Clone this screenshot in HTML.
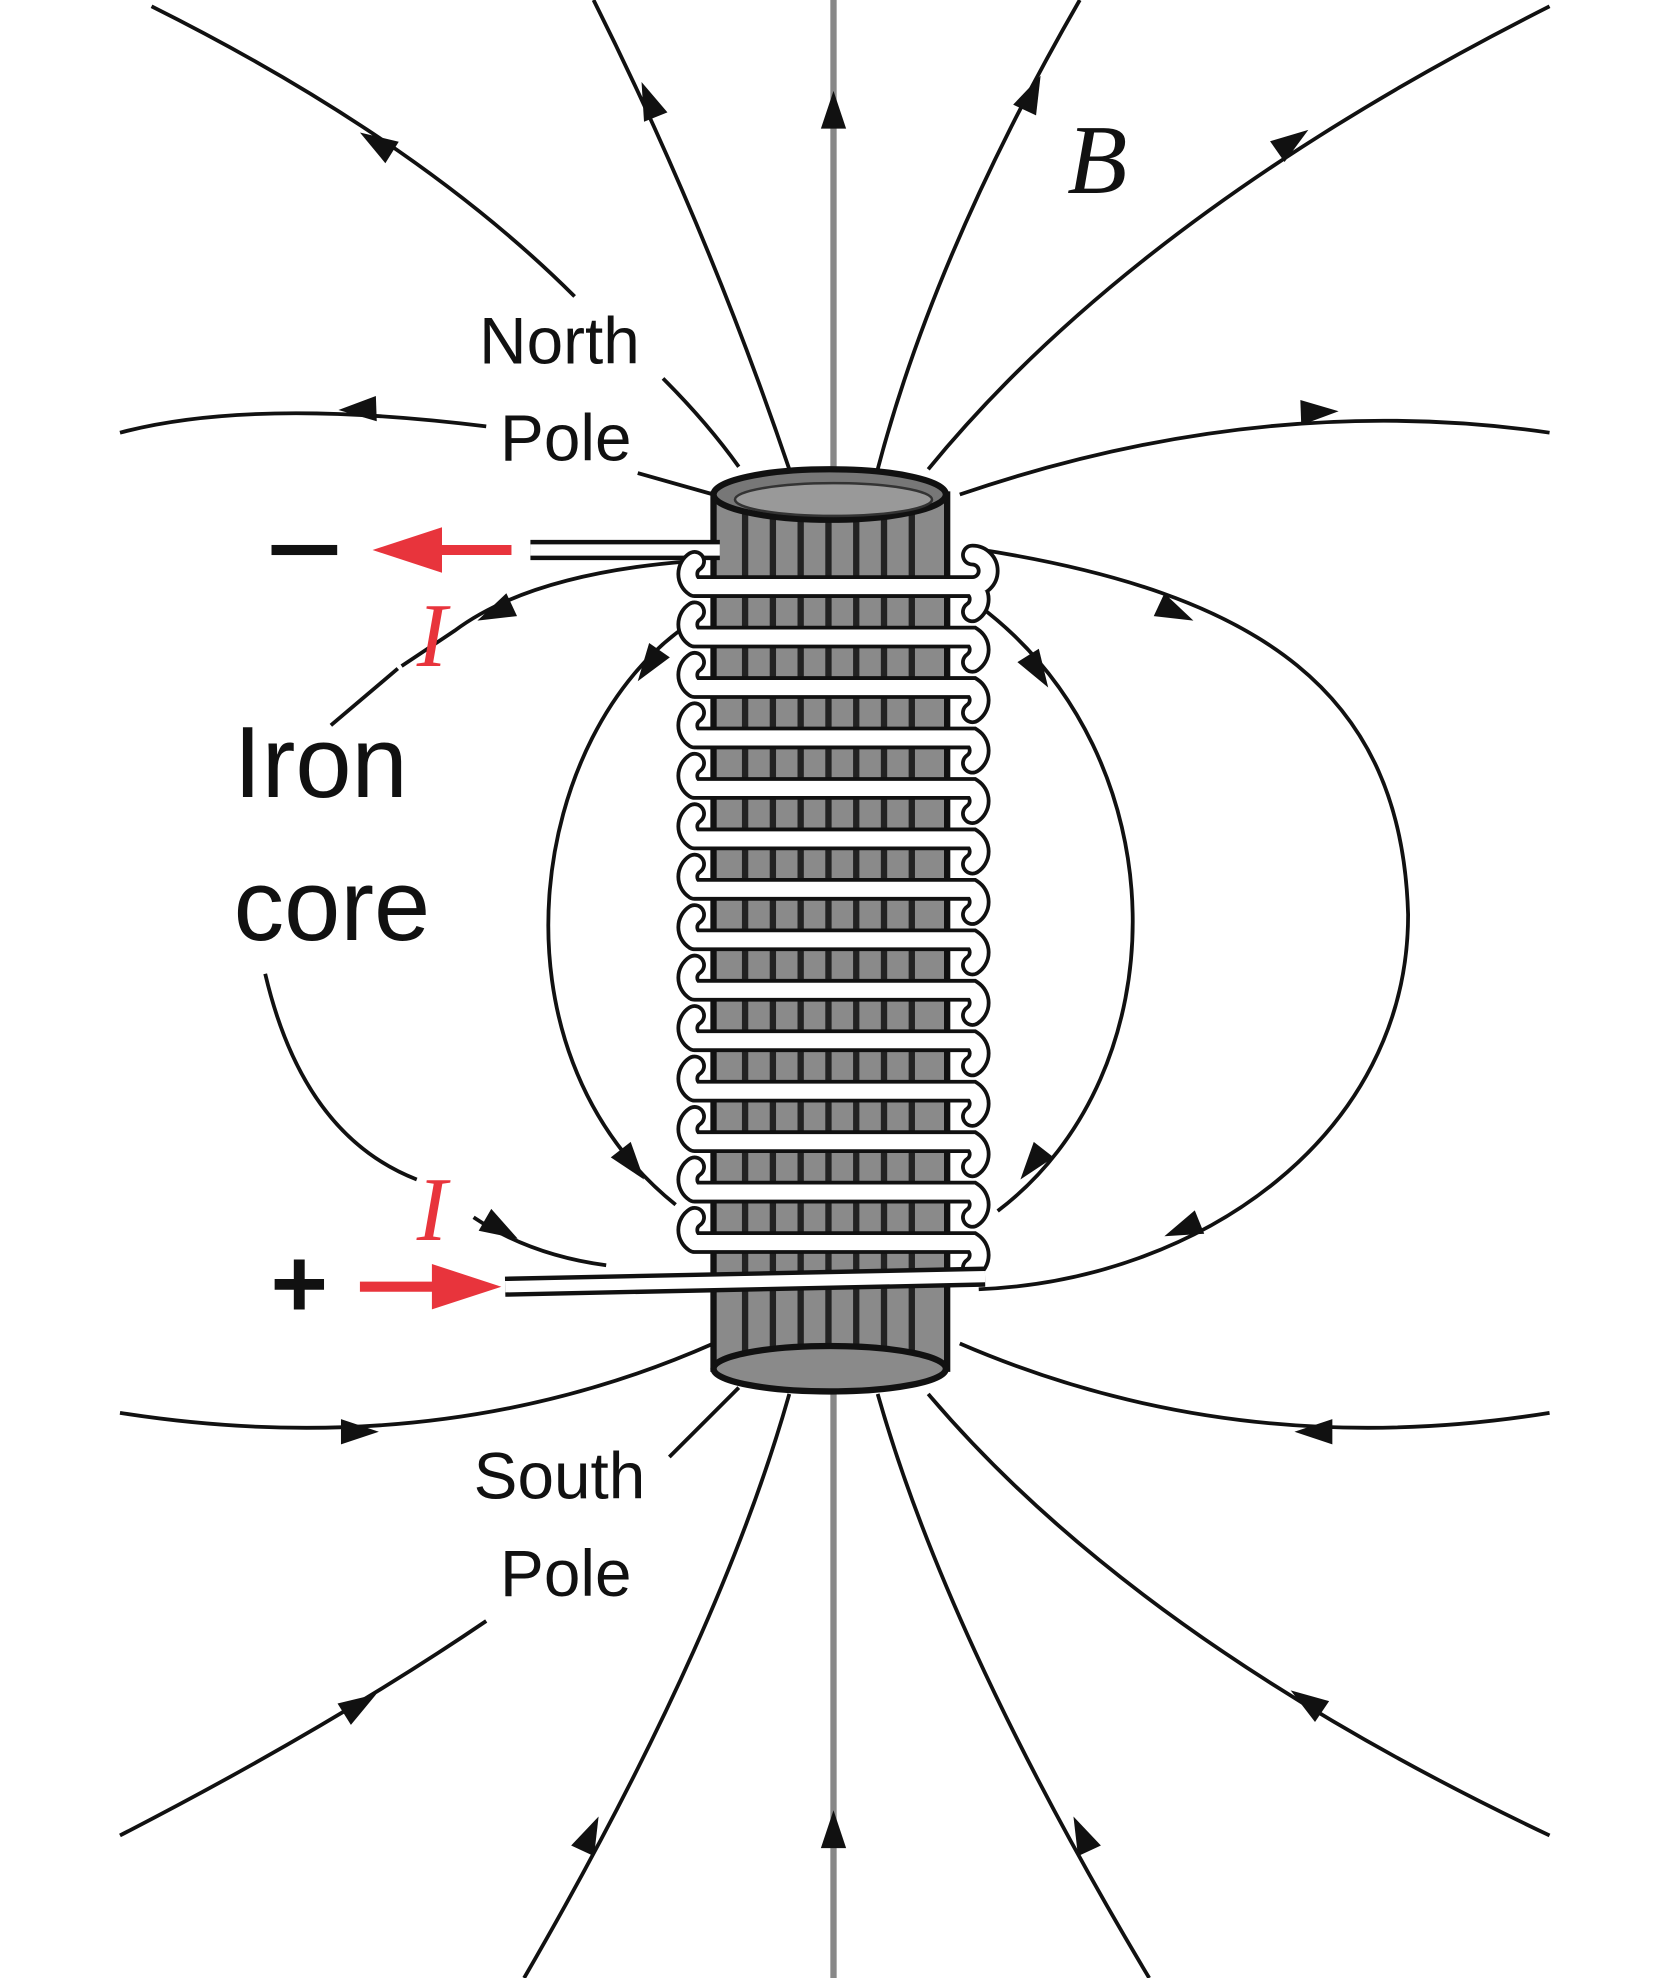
<!DOCTYPE html>
<html><head><meta charset="utf-8"><style>
html,body{margin:0;padding:0;background:#fff;}
svg{display:block;}
</style></head><body>
<svg width="1667" height="1978" viewBox="0 0 1320 1568" preserveAspectRatio="none" xmlns="http://www.w3.org/2000/svg" style="font-family:'Liberation Sans',sans-serif">
<defs>
<path id="coil" d="M770,440 A12,12 0 0 1 770,465 M550,445 A12,12 0 0 0 550,465
M550,465 L770,465 A12,12 0 0 1 770,485 M550,485 A12,12 0 0 0 550,505
M550,505 L770,505 A12,12 0 0 1 770,525 M550,525 A12,12 0 0 0 550,545
M550,545 L770,545 A12,12 0 0 1 770,565 M550,565 A12,12 0 0 0 550,585
M550,585 L770,585 A12,12 0 0 1 770,605 M550,605 A12,12 0 0 0 550,625
M550,625 L770,625 A12,12 0 0 1 770,645 M550,645 A12,12 0 0 0 550,665
M550,665 L770,665 A12,12 0 0 1 770,685 M550,685 A12,12 0 0 0 550,705
M550,705 L770,705 A12,12 0 0 1 770,725 M550,725 A12,12 0 0 0 550,745
M550,745 L770,745 A12,12 0 0 1 770,765 M550,765 A12,12 0 0 0 550,785
M550,785 L770,785 A12,12 0 0 1 770,805 M550,805 A12,12 0 0 0 550,825
M550,825 L770,825 A12,12 0 0 1 770,845 M550,845 A12,12 0 0 0 550,865
M550,865 L770,865 A12,12 0 0 1 770,885 M550,885 A12,12 0 0 0 550,905
M550,905 L770,905 A12,12 0 0 1 770,925 M550,925 A12,12 0 0 0 550,945
M550,945 L770,945 A12,12 0 0 1 770,965 M550,965 A12,12 0 0 0 550,985
M550,985 L770,985 A12,12 0 0 1 770,1005"/>
</defs>
<rect width="1320" height="1568" fill="#fff"/>
<g fill="none" stroke="#111" stroke-width="3">
<path d="M120,5 Q330,110 455,235"/><path d="M525,300 Q560,335 585,370"/>
<path d="M470,0 Q560,180 625,372"/>
<path d="M855,0 Q740,200 695,372"/>
<path d="M1227,5 Q900,170 735,372"/>
<path d="M95,343 Q200,315 385,338"/><path d="M505,375 L565,392"/>
<path d="M760,392 Q1000,310 1227,343"/>
<path d="M545,445 Q420,455 360,500 L318,528"/>
<path d="M315,530 L262,575"/>
<path d="M210,772 Q240,900 330,935"/><path d="M375,965 Q420,995 480,1003"/>
<path d="M545,495 C420,580 380,830 535,955"/>
<path d="M775,480 C935,600 935,850 790,960"/>
<path d="M772,435 C1000,470 1110,550 1115,725 C1115,900 950,1015 775,1022"/>
<path d="M95,1120 Q350,1160 565,1065"/>
<path d="M760,1065 Q980,1160 1227,1120"/>
<path d="M95,1455 Q260,1370 385,1285"/><path d="M530,1155 L585,1100"/>
<path d="M415,1568 Q570,1300 625,1105"/>
<path d="M910,1568 Q750,1300 695,1105"/>
<path d="M1227,1455 Q900,1300 735,1105"/>
</g>
<line x1="660" y1="0" x2="660" y2="1568" stroke="#888" stroke-width="5"/>
<g fill="#111">
<path d="M0,0 L-30,-10 L-30,10Z" transform="translate(285,105) rotate(-148)"/>
<path d="M0,0 L-30,-10 L-30,10Z" transform="translate(508,65) rotate(-112)"/>
<path d="M0,0 L-30,-10 L-30,10Z" transform="translate(660,72) rotate(-90)"/>
<path d="M0,0 L-30,-10 L-30,10Z" transform="translate(824,60) rotate(-65)"/>
<path d="M0,0 L-30,-10 L-30,10Z" transform="translate(1036,103) rotate(-35)"/>
<path d="M0,0 L-30,-10 L-30,10Z" transform="translate(268,325) rotate(178)"/>
<path d="M0,0 L-30,-10 L-30,10Z" transform="translate(1060,326) rotate(-2)"/>
<path d="M0,0 L-30,-10 L-30,10Z" transform="translate(378,492) rotate(155)"/>
<path d="M0,0 L-30,-10 L-30,10Z" transform="translate(505,540) rotate(125)"/>
<path d="M0,0 L-30,-10 L-30,10Z" transform="translate(510,935) rotate(52)"/>
<path d="M0,0 L-30,-10 L-30,10Z" transform="translate(410,982) rotate(30)"/>
<path d="M0,0 L-30,-10 L-30,10Z" transform="translate(830,545) rotate(58)"/>
<path d="M0,0 L-30,-10 L-30,10Z" transform="translate(808,935) rotate(128)"/>
<path d="M0,0 L-30,-10 L-30,10Z" transform="translate(945,492) rotate(25)"/>
<path d="M0,0 L-30,-10 L-30,10Z" transform="translate(922,980) rotate(158)"/>
<path d="M0,0 L-30,-10 L-30,10Z" transform="translate(300,1135) rotate(0)"/>
<path d="M0,0 L-30,-10 L-30,10Z" transform="translate(1025,1135) rotate(180)"/>
<path d="M0,0 L-30,-10 L-30,10Z" transform="translate(298,1343) rotate(-32)"/>
<path d="M0,0 L-30,-10 L-30,10Z" transform="translate(474,1440) rotate(-65)"/>
<path d="M0,0 L-30,-10 L-30,10Z" transform="translate(660,1435) rotate(-90)"/>
<path d="M0,0 L-30,-10 L-30,10Z" transform="translate(850,1440) rotate(-115)"/>
<path d="M0,0 L-30,-10 L-30,10Z" transform="translate(1022,1340) rotate(-146)"/>
</g>
<rect x="565" y="392" width="185" height="693" fill="#8a8a8a" stroke="#111" stroke-width="5"/>
<g stroke="#222" stroke-width="5">
<line x1="590" y1="400" x2="590" y2="1085"/><line x1="612" y1="400" x2="612" y2="1085"/>
<line x1="634" y1="400" x2="634" y2="1085"/><line x1="656" y1="400" x2="656" y2="1085"/>
<line x1="678" y1="400" x2="678" y2="1085"/><line x1="700" y1="400" x2="700" y2="1085"/>
<line x1="722" y1="400" x2="722" y2="1085"/>
</g>
<ellipse cx="657" cy="1085" rx="92" ry="18" fill="#8a8a8a" stroke="#111" stroke-width="5"/>
<ellipse cx="657" cy="392" rx="92" ry="20" fill="#777" stroke="#111" stroke-width="5"/>
<ellipse cx="660" cy="396" rx="78" ry="13" fill="#999" stroke="#333" stroke-width="2"/>
<path d="M420,436 L570,436" stroke="#111" stroke-width="16" fill="none"/>
<path d="M420,436 L570,436" stroke="#fff" stroke-width="9" fill="none"/>
<use href="#coil" fill="none" stroke="#111" stroke-width="18" stroke-linecap="round"/>
<use href="#coil" fill="none" stroke="#fff" stroke-width="12" stroke-linecap="round"/>
<path d="M400,1020 L780,1012" stroke="#111" stroke-width="16" fill="none"/>
<path d="M400,1020 L780,1012" stroke="#fff" stroke-width="9" fill="none"/>
<line x1="405" y1="436" x2="340" y2="436" stroke="#e8343c" stroke-width="8"/>
<path d="M295,436 L350,418 L350,454Z" fill="#e8343c"/>
<line x1="285" y1="1020" x2="350" y2="1020" stroke="#e8343c" stroke-width="8"/>
<path d="M397,1020 L342,1002 L342,1038Z" fill="#e8343c"/>
<rect x="215" y="432" width="52" height="8" fill="#111"/>
<text x="237" y="1044" font-size="78" font-weight="bold" text-anchor="middle" fill="#111">+</text>
<text x="443" y="288" font-size="52" text-anchor="middle" fill="#111">North</text>
<text x="448" y="365" font-size="52" text-anchor="middle" fill="#111">Pole</text>
<text x="443" y="1188" font-size="52" text-anchor="middle" fill="#111">South</text>
<text x="448" y="1265" font-size="52" text-anchor="middle" fill="#111">Pole</text>
<text x="185" y="632" font-size="80" fill="#111">Iron</text>
<text x="185" y="745" font-size="80" fill="#111">core</text>
<text x="845" y="153" font-size="78" fill="#111" style="font-family:'Liberation Serif',serif;font-style:italic">B</text>
<text x="330" y="528" font-size="72" fill="#e8343c" style="font-family:'Liberation Serif',serif;font-style:italic">I</text>
<text x="330" y="983" font-size="72" fill="#e8343c" style="font-family:'Liberation Serif',serif;font-style:italic">I</text>
</svg>
</body></html>
